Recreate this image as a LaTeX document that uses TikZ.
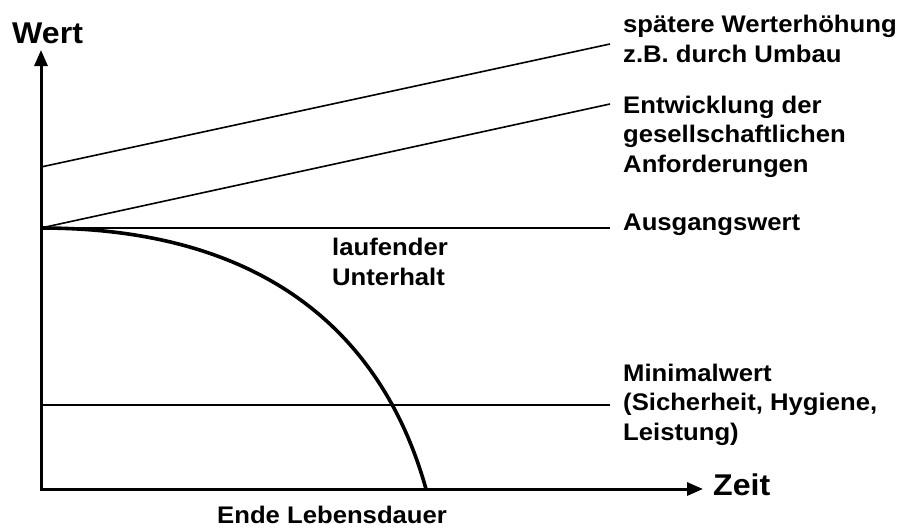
\documentclass[tikz,border=0pt]{standalone}
\usepackage{fontspec}
\setmainfont{Liberation Sans}[FakeStretch=1.07]
\usetikzlibrary{arrows.meta}

\begin{document}
\begin{tikzpicture}[x=1pt,y=-1pt,
  every node/.style={font=\bfseries\fontsize{24}{29.5}\selectfont,inner sep=0pt,align=left},
  axislabel/.style={font=\bfseries\fontsize{30}{36}\selectfont},
  thinline/.style={line width=1.6pt},
  axisline/.style={line width=3pt,line join=miter,{Triangle[length=16pt,width=13pt]}-{Triangle[length=16pt,width=13pt]}}]
  \useasboundingbox (0,0) rectangle (904,530);
  % axes
  \coordinate (O) at (41,489);
  \coordinate (ytip) at (41,50);
  \coordinate (xtip) at (703,489);
  \draw[axisline] (ytip) -- (O) -- (xtip);
  \node[axislabel,anchor=base west] (wert) at (12,43) {Wert};
  \node[axislabel,anchor=base west] (zeit) at (713,495) {Zeit};
  % value lines
  \coordinate (start) at (41,228);
  \coordinate (raised) at (41,167);
  \coordinate (mininit) at (41,405);
  \coordinate (raisedend) at (610,44);
  \coordinate (demandend) at (610,104);
  \coordinate (baseend) at (610,228);
  \coordinate (minend) at (610,405);
  \coordinate (lifeend) at (426,489);
  \draw[thinline] (raised) -- (raisedend);
  \draw[thinline] (start) -- (demandend);
  \draw[thinline] (start) -- (baseend);
  \draw[thinline] (mininit) -- (minend);
  \draw[line width=3.6pt] (start) .. controls (266,228) and (383,335) .. (lifeend);
  % labels (base = last line)
  \node[anchor=base west] (upgrade) at (623,62) {spätere Werterhöhung\\z.B. durch Umbau};
  \node[anchor=base west] (demand) at (623,172) {Entwicklung der\\gesellschaftlichen\\Anforderungen};
  \node[anchor=base west] (initial) at (623,230) {Ausgangswert};
  \node[anchor=base west] (upkeep) at (332,285) {laufender\\Unterhalt};
  \node[anchor=base west] (minimum) at (623,440) {Minimalwert\\(Sicherheit, Hygiene,\\Leistung)};
  \node[anchor=base west] (lifespan) at (217,523) {Ende Lebensdauer};
\end{tikzpicture}
\end{document}
